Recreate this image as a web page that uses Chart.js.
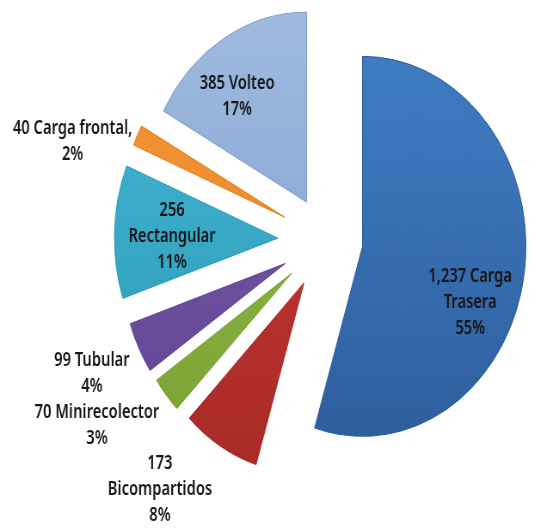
<!DOCTYPE html>
<html>
<head>
<meta charset="utf-8">
<script src="https://cdn.jsdelivr.net/npm/chart.js@4.4.0/dist/chart.umd.min.js"></script>
<style>
  html, body { margin: 0; padding: 0; background: #fff; overflow: hidden; }
  /* the original picture is squeezed horizontally */
  #wrap { width: 621px; height: 528px; transform: scaleX(0.86); transform-origin: 0 0; }
</style>
</head>
<body>
<div id="wrap"><canvas id="pie"></canvas></div>
<script>
// data
const categorias = ["Carga Trasera", "Bicompartidos", "Minirecolector", "Tubular", "Rectangular", "Carga frontal", "Volteo"];
const unidades = [1237, 173, 70, 99, 256, 40, 385];
const porcentajes = [55, 8, 3, 4, 11, 2, 17];
const etiquetas = [
  ["1,237 Carga", "Trasera", "55%"],
  ["173", "Bicompartidos", "8%"],
  ["70 Minirecolector", "3%"],
  ["99 Tubular", "4%"],
  ["256", "Rectangular", "11%"],
  ["40 Carga frontal,", "2%"],
  ["385 Volteo", "17%"]
];

// style
const colores = [
  ["#4280c6", "#2c5c9b"],
  ["#cc3d38", "#a82a27"],
  ["#9cc44c", "#77a033"],
  ["#7e5fb0", "#5f4290"],
  ["#45b9d6", "#2a98b4"],
  ["#f79a3a", "#e27c1c"],
  ["#9fbbe0", "#7f9ccb"]
];
const separacion = [43, 50, 52, 53, 56, 53, 44];
// label place: [distance from slice tip, angle in degrees from north]
const posEtiqueta = [[137, 114], [266, 219], [273, 236], [250, 244], [123, 270.5], [258, 287], [133, 322.6]];

const separar = {
  id: "separar",
  afterDatasetUpdate(chart, args) {
    args.meta.data.forEach((arc, i) => {
      const mid = (arc.startAngle + arc.endAngle) / 2;
      arc.x += Math.cos(mid) * separacion[i];
      arc.y += Math.sin(mid) * separacion[i];
    });
  }
};

const textos = {
  id: "textos",
  afterDatasetsDraw(chart) {
    const ctx = chart.ctx;
    const arcs = chart.getDatasetMeta(0).data;
    const sx = 0.9; // narrower letters, like the original font
    ctx.save();
    ctx.font = "600 19px 'Noto Sans'";
    ctx.fillStyle = "#151515";
    ctx.textAlign = "center";
    ctx.textBaseline = "middle";
    arcs.forEach((arc, i) => {
      const [d, ang] = posEtiqueta[i];
      const a = ang * Math.PI / 180;
      const cx = arc.x + Math.sin(a) * d;
      const cy = arc.y - Math.cos(a) * d;
      const lines = etiquetas[i];
      const lh = 26;
      lines.forEach((t, k) => {
        ctx.save();
        ctx.translate(cx, cy + (k - (lines.length - 1) / 2) * lh);
        ctx.scale(sx, 1);
        ctx.fillText(t, 0, 0);
        ctx.restore();
      });
    });
    ctx.restore();
  }
};

new Chart(document.getElementById("pie"), {
  type: "pie",
  data: {
    labels: categorias,
    datasets: [{
      data: unidades,
      backgroundColor: (c) => {
        const chart = c.chart;
        const area = chart.chartArea;
        const par = colores[c.dataIndex];
        if (!area) return par[0];
        const g = chart.ctx.createLinearGradient(0, 0, 0, 480);
        g.addColorStop(0, par[0]);
        g.addColorStop(1, par[1]);
        return g;
      },
      borderColor: (c) => colores[c.dataIndex][1],
      borderWidth: 1
    }]
  },
  options: {
    responsive: true,
    maintainAspectRatio: false,
    animation: false,
    events: [],
    radius: 190,
    layout: { padding: { left: 137, right: 0, top: 0, bottom: 48 } },
    plugins: {
      legend: { display: false },
      tooltip: { enabled: false }
    }
  },
  plugins: [separar, textos]
});
</script>
</body>
</html>
